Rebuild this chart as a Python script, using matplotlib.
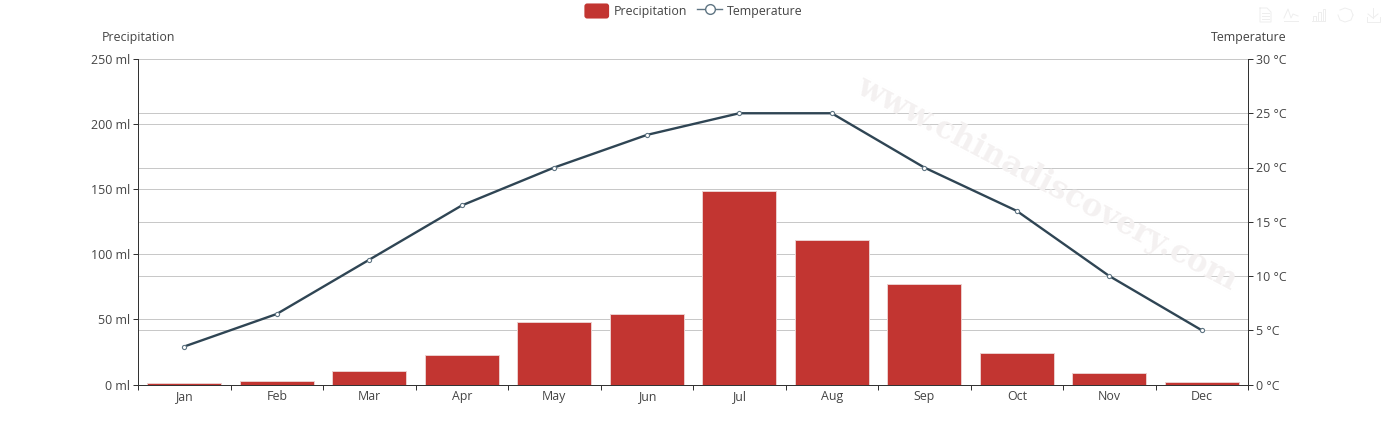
import matplotlib
matplotlib.use('Agg')
import matplotlib.pyplot as plt
from matplotlib.legend_handler import HandlerPatch
from matplotlib.lines import Line2D
from matplotlib.patches import FancyBboxPatch, Patch

WIDTH, HEIGHT = 1387, 445
TEXT_COLOR = '#444444'
AXIS_COLOR = '#333333'
GRID_COLOR = '#c8c8c8'
BAR_COLOR = '#c23531'
LINE_COLOR = '#2f4554'
ICON_COLOR = '#eeeeee'

plt.rcParams['font.family'] = ['Open Sans', 'DejaVu Sans']
plt.rcParams['font.size'] = 8.9


class HandlerRoundBar(HandlerPatch):
    def create_artists(self, legend, orig_handle, xdescent, ydescent, width, height, fontsize, trans):
        patch = FancyBboxPatch((-xdescent + 2, -ydescent + 2), width - 4, height - 4, boxstyle='round,pad=2',
                               facecolor=BAR_COLOR, edgecolor='none', transform=trans)
        return [patch]


def fx(px):
    return px / WIDTH


def fy(px):
    return 1 - px / HEIGHT


def draw_icon(fig, points):
    # ツールボックスのアイコン, ピクセル座標で指定
    xs, ys = zip(*points)
    fig.add_artist(Line2D([fx(x) for x in xs], [fy(y) for y in ys], color=ICON_COLOR, lw=0.7))


if __name__ == '__main__':
    months = ['Jan', 'Feb', 'Mar', 'Apr', 'May', 'Jun', 'Jul', 'Aug', 'Sep', 'Oct', 'Nov', 'Dec']
    precipitation = [1.5, 3, 10, 23, 48, 54, 149, 111, 77, 24, 9, 2]
    temperature = [3.5, 6.5, 11.5, 16.5, 20, 23, 25, 25, 20, 16, 10, 5]
    positions = list(range(len(months)))
    ml_ticks = [0, 50, 100, 150, 200, 250]
    deg_ticks = [0, 5, 10, 15, 20, 25, 30]

    # 画像設定
    fig = plt.figure(figsize=(WIDTH / 100, HEIGHT / 100), dpi=100)
    plt.subplots_adjust(left=138 / WIDTH, right=1248 / WIDTH, top=1 - 59 / HEIGHT, bottom=1 - 384.5 / HEIGHT)

    # 透かし文字
    fig.text(fx(1047), fy(184), 'www.chinadiscovery.com', family='DejaVu Serif', weight='bold', fontsize=22.3,
             color='#f4f1f1', rotation=-27.8, rotation_mode='anchor', ha='center', va='center', zorder=0)

    # 左軸: 降水量
    plt.gca().patch.set_alpha(0)
    plt.bar(positions, precipitation, width=0.8, color=BAR_COLOR, edgecolor='#eccfce', linewidth=0.7, zorder=2)
    plt.xlim((-0.5, 11.5))
    plt.ylim((0, 250))
    plt.xticks([p - 0.5 for p in range(13)], [''] * 13)
    plt.xticks(positions, months, minor=True)
    plt.tick_params(axis='x', which='major', length=3.6, width=0.72, color=AXIS_COLOR)
    plt.tick_params(axis='x', which='minor', length=0, pad=4, labelcolor=TEXT_COLOR)
    plt.yticks(ml_ticks, [f'{v} ml' for v in ml_ticks])
    plt.tick_params(axis='y', length=3.6, width=0.72, color=AXIS_COLOR, labelcolor=TEXT_COLOR, pad=2)
    # 棒の下に両軸の目盛線を引く, 右軸の分は250mlスケールに変換
    for v in ml_ticks:
        plt.axhline(v, color=GRID_COLOR, linewidth=0.72, zorder=1)
    for v in deg_ticks:
        plt.axhline(v / 30 * 250, color=GRID_COLOR, linewidth=0.72, zorder=1)
    for side in ['top', 'right']:
        plt.gca().spines[side].set_visible(False)
    for side in ['left', 'bottom']:
        plt.gca().spines[side].set_color(AXIS_COLOR)
        plt.gca().spines[side].set_linewidth(0.72)

    # 右軸: 気温
    plt.twinx()
    plt.plot(positions, temperature, color=LINE_COLOR, linewidth=1.7, marker='o', markersize=3,
             markerfacecolor='white', markeredgecolor='#5f7583', markeredgewidth=0.8, zorder=4)
    plt.ylim((0, 30))
    plt.yticks(deg_ticks, [f'{v} °C' for v in deg_ticks])
    plt.tick_params(axis='y', length=3.6, width=0.72, color=AXIS_COLOR, labelcolor=TEXT_COLOR, pad=2)
    for side in ['top', 'left', 'bottom']:
        plt.gca().spines[side].set_visible(False)
    plt.gca().spines['right'].set_color(AXIS_COLOR)
    plt.gca().spines['right'].set_linewidth(0.72)

    # 軸名
    fig.text(fx(138.5), fy(38), 'Precipitation', ha='center', va='center', color=TEXT_COLOR)
    fig.text(fx(1248.5), fy(38), 'Temperature', ha='center', va='center', color=TEXT_COLOR)

    # 凡例
    handles = [Patch(color=BAR_COLOR),
               Line2D([], [], color='#5f7583', lw=1, marker='o', markersize=7,
                      markerfacecolor='white', markeredgecolor='#5f7583', markeredgewidth=1)]
    fig.legend(handles, ['Precipitation', 'Temperature'], loc='center', bbox_to_anchor=(fx(693.5), fy(11)),
               ncol=2, frameon=False, labelcolor=TEXT_COLOR, handlelength=2.0, handleheight=1.5,
               handletextpad=0.4, columnspacing=0.8, handler_map={Patch: HandlerRoundBar()})

    # ツールボックス
    draw_icon(fig, [(1260, 8), (1267, 8), (1271, 12), (1271, 22), (1260, 22), (1260, 8)])
    draw_icon(fig, [(1262, 13), (1269, 13)])
    draw_icon(fig, [(1262, 16), (1269, 16)])
    draw_icon(fig, [(1262, 19), (1269, 19)])
    draw_icon(fig, [(1284, 21), (1298, 21)])
    draw_icon(fig, [(1284, 18), (1288, 9), (1291, 18), (1293, 14), (1298, 16)])
    draw_icon(fig, [(1312, 21), (1325, 21)])
    draw_icon(fig, [(1313, 21), (1313, 16), (1316, 16), (1316, 21)])
    draw_icon(fig, [(1318, 21), (1318, 12), (1321, 12), (1321, 21)])
    draw_icon(fig, [(1323, 21), (1323, 9), (1325, 9), (1325, 21)])
    draw_icon(fig, [(1340, 10), (1345, 8), (1351, 10), (1353, 15)])
    draw_icon(fig, [(1353, 15), (1351, 20), (1345, 22), (1340, 20), (1338, 15)])
    draw_icon(fig, [(1373, 8), (1373, 18)])
    draw_icon(fig, [(1368, 14), (1373, 18), (1378, 14)])
    draw_icon(fig, [(1367, 17), (1367, 22), (1380, 22), (1380, 17)])

    # 画像保存
    plt.savefig('out.png', dpi=100)
    plt.close()
